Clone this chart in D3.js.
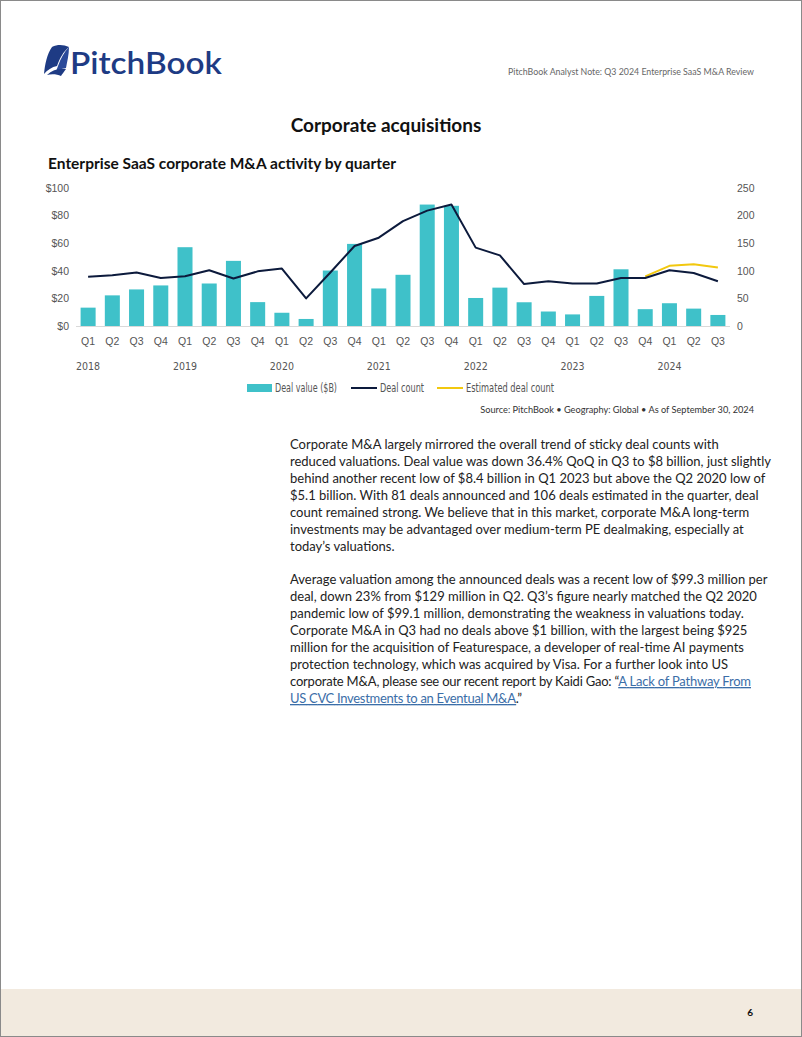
<!DOCTYPE html>
<html>
<head>
<meta charset="utf-8">
<script src="https://cdn.jsdelivr.net/npm/d3@7"></script>
<style>
  html, body { margin: 0; padding: 0; background: #fff; }
  svg { display: block; }
  .cond { font-family: "DejaVu Sans Condensed", "DejaVu Sans", sans-serif; font-stretch: condensed; }
  .body { font-family: "Lato", "Open Sans", sans-serif; }
</style>
</head>
<body>
<svg id="page" width="802" height="1037"></svg>
<script>
// ---------- DATA ----------
const quarters = ["Q1","Q2","Q3","Q4","Q1","Q2","Q3","Q4","Q1","Q2","Q3","Q4","Q1","Q2","Q3","Q4",
                  "Q1","Q2","Q3","Q4","Q1","Q2","Q3","Q4","Q1","Q2","Q3"];
const years = ["2018","2019","2020","2021","2022","2023","2024"];
const dealValue = [13.3, 22.2, 26.5, 29.4, 57.1, 30.8, 47.2, 17.3, 9.6, 5.1, 40.2, 59.5, 27.2, 37.1,
                   88.0, 87.1, 20.3, 27.8, 17.2, 10.5, 8.4, 21.8, 41.1, 12.2, 16.5, 12.6, 8.0];
const dealCount = [89, 92, 97, 87, 90, 101, 86, 99, 104, 50, 97, 145, 160, 190, 209, 220,
                   142, 128, 76, 81, 77, 77, 87, 87, 101, 96, 81];
const estimatedCount = [null,null,null,null,null,null,null,null,null,null,null,null,null,null,null,null,
                        null,null,null,null,null,null,null,90, 109, 112, 106];
const leftTicks = [0, 20, 40, 60, 80, 100];
const rightTicks = [0, 50, 100, 150, 200, 250];

const para1 = [
  "Corporate M&A largely mirrored the overall trend of sticky deal counts with",
  "reduced valuations. Deal value was down 36.4% QoQ in Q3 to $8 billion, just slightly",
  "behind another recent low of $8.4 billion in Q1 2023 but above the Q2 2020 low of",
  "$5.1 billion. With 81 deals announced and 106 deals estimated in the quarter, deal",
  "count remained strong. We believe that in this market, corporate M&A long-term",
  "investments may be advantaged over medium-term PE dealmaking, especially at",
  "today\u2019s valuations."
];
const para2 = [
  "Average valuation among the announced deals was a recent low of $99.3 million per",
  "deal, down 23% from $129 million in Q2. Q3\u2019s figure nearly matched the Q2 2020",
  "pandemic low of $99.1 million, demonstrating the weakness in valuations today.",
  "Corporate M&A in Q3 had no deals above $1 billion, with the largest being $925",
  "million for the acquisition of Featurespace, a developer of real-time AI payments",
  "protection technology, which was acquired by Visa. For a further look into US"
];

// ---------- COLORS ----------
const TEAL = "#3fc1c9", NAVY = "#0c1a3c", YELLOW = "#f2c80f", LOGO = "#1e3b84";

const svg = d3.select("#page");

// page border & footer
svg.append("rect").attr("x", 0).attr("y", 989).attr("width", 802).attr("height", 48).attr("fill", "#f2eadf");
svg.append("rect").attr("x", 0.5).attr("y", 0.5).attr("width", 801).attr("height", 1036)
  .attr("fill", "none").attr("stroke", "#8a8a8a").attr("stroke-width", 1);
svg.append("text").attr("x", 753).attr("y", 1016).attr("text-anchor", "end")
  .attr("font-family", "Lato, sans-serif").attr("font-weight", 700).attr("font-size", 10).attr("fill", "#111").text("6");

// logo
const logo = svg.append("g").attr("fill", LOGO);
logo.append("path").attr("d", "M52,47 C58,44 64,45 69,47 C63,52 60,58 57,66 C52,67 47,70 44,74 C45,64 47,54 52,47 Z");
logo.append("path").attr("d", "M58,66 C61,58 64,52 69,47 C69,55 67,62 66,68 C62,68 58,70 55,74 C56,71 57,69 58,66 Z").attr("fill", "#2a4a9a");
logo.append("path").attr("d", "M47,75 C52,70 59,68 66,69 C64,72 62,74 61,76 C57,74 51,74 47,75 Z");
svg.append("text").attr("x", 70).attr("y", 74).attr("font-family", "Lato, 'Open Sans', sans-serif")
  .attr("font-weight", 600).attr("font-size", 31).attr("fill", LOGO)
  .attr("textLength", 152).attr("lengthAdjust", "spacingAndGlyphs").text("PitchBook");

svg.append("text").attr("x", 754).attr("y", 75).attr("text-anchor", "end")
  .attr("font-family", "Lato, sans-serif").attr("font-size", 8.8).attr("fill", "#666")
  .text("PitchBook Analyst Note: Q3 2024 Enterprise SaaS M&A Review");

// titles
svg.append("text").attr("x", 386).attr("y", 132).attr("text-anchor", "middle")
  .attr("font-family", "Lato, sans-serif").attr("font-weight", 700).attr("font-size", 19).attr("fill", "#111")
  .text("Corporate acquisitions");
svg.append("text").attr("x", 48).attr("y", 169)
  .attr("font-family", "Lato, sans-serif").attr("font-weight", 700).attr("font-size", 15.5).attr("fill", "#111")
  .text("Enterprise SaaS corporate M&A activity by quarter");

// ---------- CHART ----------
const idx = d3.range(quarters.length);
const x = d3.scaleBand().domain(idx).range([76, 730]).paddingInner(0.38).paddingOuter(0.19);
const yL = d3.scaleLinear().domain([0, 100]).range([326, 188]);
const yR = d3.scaleLinear().domain([0, 250]).range([326, 188]);
const cx = i => x(i) + x.bandwidth() / 2;

const chart = svg.append("g").attr("class", "cond");
const FS = 10.5, TXT = "#555";

// left axis
const axL = chart.append("g").attr("transform", "translate(69,0)")
  .call(d3.axisLeft(yL).tickValues(leftTicks).tickSize(0).tickPadding(0).tickFormat(d => "$" + d));
axL.select(".domain").remove();
axL.selectAll("text").attr("font-size", FS).attr("fill", TXT).attr("font-family", null);

// right axis
const axR = chart.append("g").attr("transform", "translate(737,0)")
  .call(d3.axisRight(yR).tickValues(rightTicks).tickSize(0).tickPadding(0));
axR.select(".domain").remove();
axR.selectAll("text").attr("font-size", FS).attr("fill", TXT).attr("font-family", null);

// bars
chart.append("g").selectAll("rect").data(dealValue).join("rect")
  .attr("x", (d, i) => x(i)).attr("width", x.bandwidth())
  .attr("y", d => yL(d)).attr("height", d => yL(0) - yL(d)).attr("fill", TEAL);

// baseline
chart.append("line").attr("x1", 76).attr("x2", 730).attr("y1", yL(0) + 0.5).attr("y2", yL(0) + 0.5)
  .attr("stroke", "#d9d9d9").attr("stroke-width", 1);

// lines
const line = d3.line().defined(d => d.v != null).x(d => cx(d.i)).y(d => yR(d.v));
chart.append("path").datum(estimatedCount.map((v, i) => ({ i, v })))
  .attr("d", line).attr("fill", "none").attr("stroke", YELLOW).attr("stroke-width", 2).attr("stroke-linejoin", "round");
chart.append("path").datum(dealCount.map((v, i) => ({ i, v })))
  .attr("d", line).attr("fill", "none").attr("stroke", NAVY).attr("stroke-width", 2).attr("stroke-linejoin", "round");

// x axis labels
const axX = chart.append("g").attr("transform", "translate(0,338)")
  .call(d3.axisBottom(x).tickSize(0).tickPadding(0).tickFormat(i => quarters[i]));
axX.select(".domain").remove();
axX.selectAll("text").attr("font-size", FS).attr("fill", TXT).attr("font-family", null).attr("dy", "0.71em");

chart.append("g").selectAll("text").data(years).join("text")
  .attr("x", (d, k) => cx(k * 4)).attr("y", 370).attr("text-anchor", "middle")
  .attr("font-size", FS).attr("fill", TXT).text(d => d);

// legend
const lg = chart.append("g").attr("font-size", 12).attr("fill", TXT);
lg.append("rect").attr("x", 247).attr("y", 384).attr("width", 25).attr("height", 8).attr("fill", TEAL);
lg.append("text").attr("x", 275).attr("y", 392).attr("textLength", 62).attr("lengthAdjust", "spacingAndGlyphs").text("Deal value ($B)");
lg.append("line").attr("x1", 351).attr("x2", 377).attr("y1", 388).attr("y2", 388).attr("stroke", NAVY).attr("stroke-width", 2);
lg.append("text").attr("x", 380).attr("y", 392).attr("textLength", 44).attr("lengthAdjust", "spacingAndGlyphs").text("Deal count");
lg.append("line").attr("x1", 437).attr("x2", 463).attr("y1", 388).attr("y2", 388).attr("stroke", YELLOW).attr("stroke-width", 2);
lg.append("text").attr("x", 466).attr("y", 392).attr("textLength", 88).attr("lengthAdjust", "spacingAndGlyphs").text("Estimated deal count");

// source
svg.append("text").attr("x", 754).attr("y", 413).attr("text-anchor", "end")
  .attr("font-family", "Lato, sans-serif").attr("font-size", 9.2).attr("fill", "#333")
  .text("Source: PitchBook  \u2022  Geography: Global  \u2022  As of September 30, 2024");

// ---------- BODY TEXT ----------
const bodyG = svg.append("g").attr("class", "body").attr("font-size", 13).attr("fill", "#222");
para1.forEach((t, k) => bodyG.append("text").attr("x", 290).attr("y", 449 + k * 17).text(t));
para2.forEach((t, k) => bodyG.append("text").attr("x", 290).attr("y", 584 + k * 17).text(t));

const LINK = "#3b6ea8";
const l7 = bodyG.append("text").attr("x", 290).attr("y", 584 + 6 * 17)
  .attr("textLength", 461).attr("lengthAdjust", "spacing");
l7.append("tspan").text("corporate M&A, please see our recent report by Kaidi Gao: \u201c");
l7.append("tspan").attr("fill", LINK).attr("text-decoration", "underline").text("A Lack of Pathway From");
const l8 = bodyG.append("text").attr("x", 290).attr("y", 584 + 7 * 17)
  .attr("textLength", 232).attr("lengthAdjust", "spacing");
l8.append("tspan").attr("fill", LINK).attr("text-decoration", "underline").text("US CVC Investments to an Eventual M&A");
l8.append("tspan").text(".\u201d");
</script>
</body>
</html>
